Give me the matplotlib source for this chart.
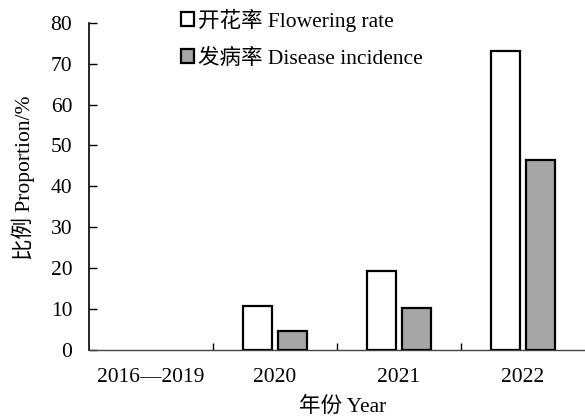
import matplotlib
matplotlib.use("Agg")
import matplotlib.pyplot as plt
import numpy as np
from matplotlib.patches import Patch

plt.rcParams['font.family'] = ['Liberation Serif', 'Noto Sans CJK SC']

categories = ["2016\u20142019", "2020", "2021", "2022"]
flowering = [0, 10.8, 19.4, 73.0]
disease = [0, 4.6, 10.3, 46.4]
yticks = [0, 10, 20, 30, 40, 50, 60, 70, 80]

FS = 15.5
fig = plt.figure(figsize=(5.85, 4.18), dpi=100)
ax = fig.add_axes([89/585, (418-350)/418, (585-89)/585, (350-22.7)/418])

x = np.arange(len(categories))
w = 0.234
off = 0.141
b1 = ax.bar(x - off, flowering, w, color="white", edgecolor="black", linewidth=1.6, zorder=3)
b2 = ax.bar(x + off, disease, w, color="#a6a6a6", edgecolor="black", linewidth=1.6, zorder=3)
for p in list(b1) + list(b2):
    if p.get_height() == 0:
        p.set_visible(False)

ax.set_xlim(-0.5, len(categories) - 0.5)
ax.set_ylim(0, 80)
ax.set_yticks(yticks)
ax.set_xticks(x)
ax.set_xticklabels(categories)
ax.set_xticks(np.arange(len(categories) - 1) + 0.5, minor=True)
ax.tick_params(axis='x', which='major', length=0, pad=13, labelsize=FS)
ax.tick_params(axis='x', which='minor', direction='in', length=5, width=1)
ax.tick_params(axis='y', direction='in', length=6, width=1, pad=12, labelsize=FS)
for s in ['top', 'right']:
    ax.spines[s].set_visible(False)
ax.spines['left'].set_linewidth(1.2)
ax.spines['bottom'].set_linewidth(1.0)
ax.spines['bottom'].set_color('#444444')

ax.set_ylabel("比例 Proportion/%", fontsize=FS)
ax.yaxis.set_label_coords(-66/496, (350-178)/327.3)
ax.set_xlabel("年份 Year", fontsize=FS)
ax.xaxis.set_label_coords((343-89)/496, -(407-350)/327.3)
ax.xaxis.label.set_va('center')
ax.yaxis.label.set_va('center')

handles = [Patch(facecolor='white', edgecolor='black', linewidth=1.6),
           Patch(facecolor='#a6a6a6', edgecolor='black', linewidth=1.6)]
leg = ax.legend(handles, ["开花率 Flowering rate", "发病率 Disease incidence"],
                loc='upper left', bbox_to_anchor=((181-89)/496, 1.043), frameon=False,
                fontsize=FS, handlelength=0.6, handleheight=0.6,
                handletextpad=0.2, labelspacing=0.78, borderaxespad=0, borderpad=0)

fig.savefig("out.png", dpi=100)
